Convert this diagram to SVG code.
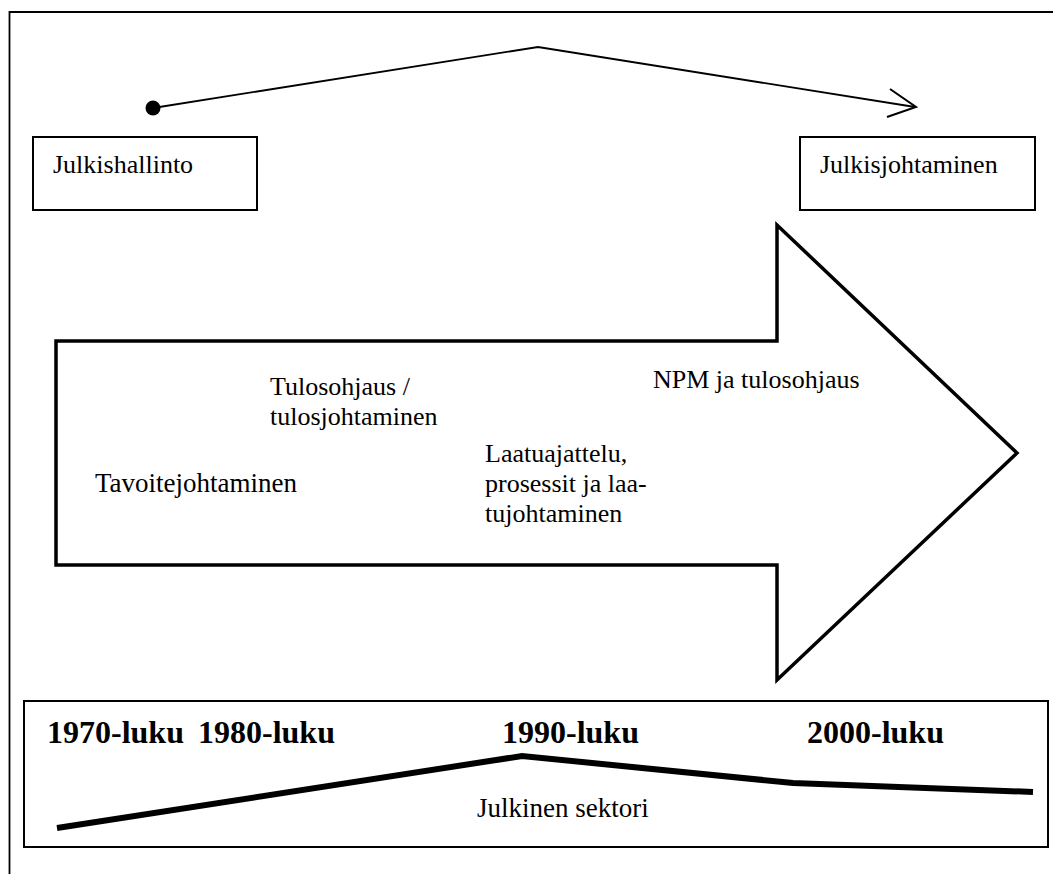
<svg xmlns="http://www.w3.org/2000/svg" width="1053" height="874" viewBox="0 0 1053 874">
<style>
text{font-family:"Liberation Serif","Times New Roman",Tinos,"DejaVu Serif",serif;fill:#000}
.t{font-size:26px;font-weight:normal}
.b{font-size:32px;font-weight:bold}
.box{fill:#fff;stroke:#000;stroke-width:2}
</style>
<rect width="1053" height="874" fill="#fff"/>
<g id="frame"><path d="M9.5 874 V12 H1053" fill="none" stroke="#000" stroke-width="1.8"/></g>
<g id="connectors">
<path d="M153 108 L538 47 L915 107" fill="none" stroke="#000" stroke-width="1.8"/>
<path d="M890 89 L916 107 L887 117" fill="none" stroke="#000" stroke-width="2"/>
<circle cx="153" cy="108" r="7.5" fill="#000"/>
</g>
<g id="julkishallinto"><rect class="box" x="33" y="137" width="224" height="73"/><text class="t" x="53" y="173" font-family="Liberation Serif, serif">Julkishallinto</text></g>
<g id="julkisjohtaminen"><rect class="box" x="800" y="137" width="235" height="73"/><text class="t" x="820" y="173">Julkisjohtaminen</text></g>
<g id="big-arrow">
<polygon points="56,341 777,341 777,225 1017,453 777,680 777,565 56,565" fill="#fff" stroke="#000" stroke-width="3.5" stroke-linejoin="miter"/>
<text class="t" x="270" y="395">Tulosohjaus /</text>
<text class="t" x="270" y="425">tulosjohtaminen</text>
<text class="t" x="95" y="492" style="font-size:27px">Tavoitejohtaminen</text>
<text class="t" x="485" y="462">Laatuajattelu,</text>
<text class="t" x="485" y="492">prosessit ja laa-</text>
<text class="t" x="485" y="522">tujohtaminen</text>
<text class="t" x="653" y="388">NPM ja tulosohjaus</text>
</g>
<g id="timeline">
<rect class="box" x="24" y="701" width="1024" height="146"/>
<text class="b" x="47" y="743">1970-luku</text>
<text class="b" x="198" y="743">1980-luku</text>
<text class="b" x="502" y="743">1990-luku</text>
<text class="b" x="807" y="743">2000-luku</text>
<polyline points="57,828 522,756 793,783 1033,792" fill="none" stroke="#000" stroke-width="6" stroke-linejoin="miter"/>
<text class="t" x="477" y="817" style="font-size:27px">Julkinen sektori</text>
</g>
</svg>
